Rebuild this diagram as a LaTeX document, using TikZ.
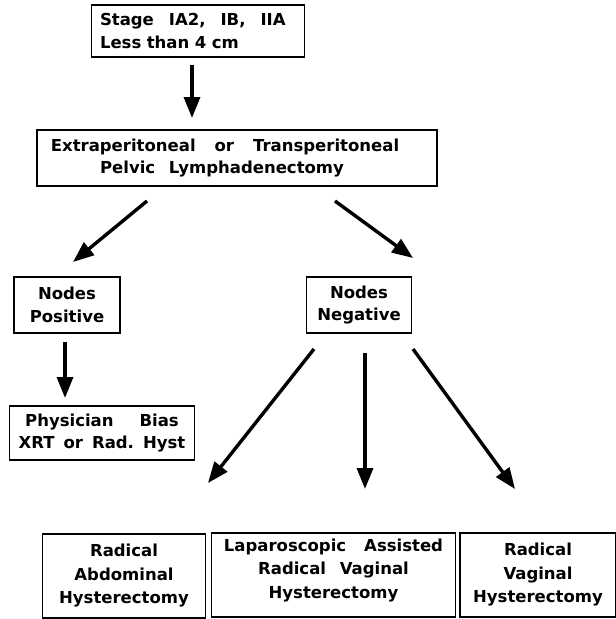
\documentclass[tikz,border=0pt]{standalone}
\usepackage{fontspec}
\setmainfont{DejaVu Sans}[WordSpace=2.4]
\usetikzlibrary{arrows.meta}
\usetikzlibrary{calc}

\begin{document}
\begin{tikzpicture}[x=1pt,y=-1pt,
		box/.style={draw,line width=1.9pt,inner sep=0pt,align=center,
			font=\bfseries\fontsize{16.5}{22.5}\selectfont},
		tall/.style={box,minimum height=84,font=\bfseries\fontsize{16.5}{23.5}\selectfont},
		arr/.style={-{Triangle[length=21pt,width=16pt]},line width=3.4pt}]
		\useasboundingbox (0,0) rectangle (616,619);
		% boxes
		\node[box,minimum height=52,text width=196,inner xsep=8.5pt,align=left] (stage) at (198,31)
		{Stage\hspace{15pt}IA2,\hspace{15pt}IB,\hspace{15pt}IIA\\Less than 4 cm};
		\node[box,minimum width=400,minimum height=56] (lymph) at (237,158)
		{Extraperitoneal\hspace{19pt}or\hspace{19pt}Transperitoneal\hspace*{24pt}\\Pelvic Lymphadenectomy\hspace*{30pt}};
		\node[box,minimum width=106,minimum height=56] (pos) at (67,305) {Nodes\\Positive};
		\node[box,minimum width=105,minimum height=56] (neg) at (359,305) {Nodes\\Negative};
		\node[box,minimum width=185,minimum height=54] (bias) at (102,433)
		{Physician\hspace{26pt}Bias\\XRT\hspace{9pt}or\hspace{9pt}Rad.\hspace{9pt}Hyst};
		\node[tall,minimum width=163] (rah) at (124,576)
		{Radical\\Abdominal\\Hysterectomy};
		\node[tall,minimum width=244] (lavh) at (333.5,575)
		{Laparoscopic\hspace{18pt}Assisted\\Radical Vaginal\\Hysterectomy\\[-10pt]\mbox{}};
		\node[tall,minimum width=156] (rvh) at (538,575)
		{Radical\\Vaginal\\Hysterectomy};
		% arrow ends
		\coordinate (stage-o) at (192,65);   \coordinate (lymph-i) at (192,118);
		\coordinate (lymph-l) at (147,201);  \coordinate (pos-i) at (73,262);
		\coordinate (lymph-r) at (335,201);  \coordinate (neg-i) at (413,258);
		\coordinate (pos-o) at (65,342);     \coordinate (bias-i) at (65,398);
		\coordinate (neg-l) at (314,349);    \coordinate (rah-i) at (208,483);
		\coordinate (neg-m) at (365,353);    \coordinate (lavh-i) at (365,489);
		\coordinate (neg-r) at (413,349);    \coordinate (rvh-i) at (515,489);
		\path[arr]
		(stage-o) edge (lymph-i)
		(lymph-l) edge (pos-i)
		(lymph-r) edge (neg-i)
		(pos-o) edge (bias-i)
		(neg-l) edge (rah-i)
		(neg-m) edge (lavh-i)
		(neg-r) edge (rvh-i);
\end{tikzpicture}
\end{document}
